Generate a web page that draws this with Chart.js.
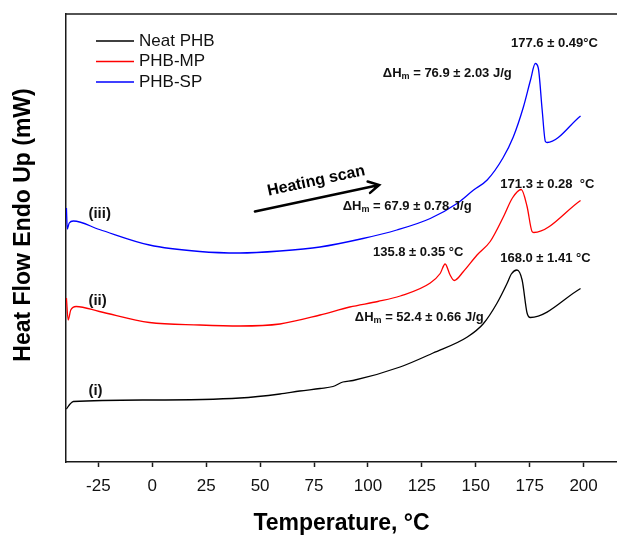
<!DOCTYPE html>
<html>
<head>
<meta charset="utf-8">
<script src="https://cdn.jsdelivr.net/npm/chart.js@4.4.1/dist/chart.umd.min.js"></script>
<style>
  html, body { margin: 0; padding: 0; background: #fff; overflow: hidden; }
</style>
</head>
<body>
<canvas id="dsc" width="617" height="535"></canvas>
<script>
// DSC heating curves (temperature in °C, heat flow in mW, curves offset)
const tempNeat = [-39.8, -38.1, -36.6, -1.3, 40.6, 59.2, 68.4, 77.8, 83.8, 88.4, 93.1, 114.9, 130.2, 146.1, 153.6, 159.9, 164.5, 166.5, 169.1, 171.5, 173.8, 175.3, 198.6];
const heatNeat = [1.06, 1.16, 1.21, 1.24, 1.28, 1.36, 1.42, 1.47, 1.51, 1.6, 1.63, 1.9, 2.18, 2.5, 2.77, 3.18, 3.57, 3.76, 3.84, 3.64, 2.98, 2.89, 3.47];

const tempMP = [-39.8, -39.0, -37.8, -35.3, -24.5, -1.3, 22, 40.6, 59.2, 77.8, 91.6, 104.6, 115.0, 128.9, 133.5, 135.8, 138.1, 140.0, 144.3, 150.6, 156.7, 162.9, 167.0, 171.1, 173.8, 176.1, 176.9, 198.6];
const heatMP = [3.28, 2.84, 3.04, 3.11, 3.01, 2.79, 2.74, 2.72, 2.76, 2.94, 3.10, 3.21, 3.32, 3.58, 3.77, 3.96, 3.74, 3.63, 3.81, 4.14, 4.41, 4.91, 5.28, 5.45, 5.11, 4.61, 4.59, 5.23];

const tempSP = [-39.8, -39.4, -38.5, -36.6, -24.5, -1.3, 22, 40.6, 59.2, 77.8, 97.7, 113.4, 128.9, 141.3, 149, 155.3, 162.6, 167.4, 172.1, 175.4, 177.6, 179.0, 180.8, 182.3, 183.1, 198.6];
const heatSP = [5.08, 4.66, 4.78, 4.82, 4.65, 4.34, 4.21, 4.18, 4.22, 4.3, 4.47, 4.64, 4.87, 5.17, 5.44, 5.64, 6.08, 6.5, 7.1, 7.64, 7.97, 7.88, 7.04, 6.41, 6.39, 6.92];

const seriesNames = ['Neat PHB', 'PHB-MP', 'PHB-SP'];
const seriesColors = ['#000000', '#ff0000', '#0000ff'];
const xTicks = [-25, 0, 25, 50, 75, 100, 125, 150, 175, 200];

// annotation texts placed in data coordinates
const peakNotes = [
  { t: 186.5, v: 8.38, text: '177.6 ± 0.49°C' },
  { t: 183.2, v: 5.56, text: '171.3 ± 0.28  °C' },
  { t: 123.3, v: 4.20, text: '135.8 ± 0.35 °C' },
  { t: 182.3, v: 4.08, text: '168.0 ± 1.41 °C' }
];
const enthalpyNotes = [
  { t: 136.8, v: 7.78, text: ' = 76.9 ± 2.03 J/g' },
  { t: 118.2, v: 5.12, text: ' = 67.9 ± 0.78 J/g' },
  { t: 123.8, v: 2.90, text: ' = 52.4 ± 0.66 J/g' }
];
const curveTags = [
  { t: -29.6, v: 4.96, text: '(iii)' },
  { t: -29.6, v: 3.22, text: '(ii)' },
  { t: -29.6, v: 1.42, text: '(i)' }
];

const FONT = "'Liberation Sans', Arial, sans-serif";
const toPoints = (xs, ys) => xs.map((x, i) => ({ x: x, y: ys[i] }));

const decor = {
  id: 'decor',
  afterDraw(chart) {
    const { ctx, chartArea: a, scales: { x, y } } = chart;
    ctx.save();

    // top frame line
    ctx.strokeStyle = '#1a1a1a';
    ctx.lineWidth = 1.5;
    ctx.beginPath();
    ctx.moveTo(a.left, a.top);
    ctx.lineTo(a.right, a.top);
    ctx.stroke();

    // y title
    ctx.save();
    ctx.translate(23.5, 225);
    ctx.rotate(-Math.PI / 2);
    ctx.font = 'bold 23px ' + FONT;
    ctx.fillStyle = '#000';
    ctx.textAlign = 'center';
    ctx.textBaseline = 'middle';
    ctx.fillText('Heat Flow Endo Up (mW)', 0, 0);
    ctx.restore();

    // legend
    ctx.font = '17px ' + FONT;
    ctx.textBaseline = 'middle';
    ctx.textAlign = 'left';
    chart.data.datasets.forEach((ds, i) => {
      const ly = a.top + 27 + i * 20.5;
      ctx.strokeStyle = ds.borderColor;
      ctx.lineWidth = 1.3;
      ctx.beginPath();
      ctx.moveTo(a.left + 30, ly);
      ctx.lineTo(a.left + 68, ly);
      ctx.stroke();
      ctx.fillStyle = '#111';
      ctx.fillText(ds.label, a.left + 73, ly);
    });

    ctx.fillStyle = '#111';
    ctx.textBaseline = 'middle';

    // peak temperatures
    ctx.font = 'bold 13px ' + FONT;
    ctx.textAlign = 'center';
    peakNotes.forEach(n => ctx.fillText(n.text, x.getPixelForValue(n.t), y.getPixelForValue(n.v)));

    // enthalpies with subscript m
    enthalpyNotes.forEach(n => {
      const cx = x.getPixelForValue(n.t), cy = y.getPixelForValue(n.v);
      ctx.font = 'bold 13px ' + FONT;
      const w1 = ctx.measureText('ΔH').width, w3 = ctx.measureText(n.text).width;
      ctx.font = 'bold 9px ' + FONT;
      const w2 = ctx.measureText('m').width;
      let px = cx - (w1 + w2 + w3) / 2;
      ctx.textAlign = 'left';
      ctx.font = 'bold 13px ' + FONT;
      ctx.fillText('ΔH', px, cy);
      ctx.font = 'bold 9px ' + FONT;
      ctx.fillText('m', px + w1, cy + 4);
      ctx.font = 'bold 13px ' + FONT;
      ctx.fillText(n.text, px + w1 + w2, cy);
    });

    // curve tags
    ctx.font = 'bold 15px ' + FONT;
    ctx.textAlign = 'left';
    curveTags.forEach(n => ctx.fillText(n.text, x.getPixelForValue(n.t), y.getPixelForValue(n.v)));

    // heating scan arrow
    const x0 = x.getPixelForValue(47.6), y0 = y.getPixelForValue(5.01);
    const x1 = x.getPixelForValue(105.2), y1 = y.getPixelForValue(5.54);
    const ang = Math.atan2(y1 - y0, x1 - x0);
    ctx.strokeStyle = '#000';
    ctx.lineWidth = 2.5;
    ctx.lineCap = 'round';
    ctx.beginPath();
    ctx.moveTo(x0, y0);
    ctx.lineTo(x1, y1);
    ctx.moveTo(x1 - 12 * Math.cos(ang - 0.5), y1 - 12 * Math.sin(ang - 0.5));
    ctx.lineTo(x1, y1);
    ctx.lineTo(x1 - 12 * Math.cos(ang + 0.5), y1 - 12 * Math.sin(ang + 0.5));
    ctx.stroke();

    ctx.save();
    ctx.translate(x.getPixelForValue(76), y.getPixelForValue(5.62));
    ctx.rotate(ang);
    ctx.font = 'bold 16px ' + FONT;
    ctx.textAlign = 'center';
    ctx.fillStyle = '#000';
    ctx.fillText('Heating scan', 0, 0);
    ctx.restore();

    ctx.restore();
  }
};

new Chart(document.getElementById('dsc'), {
  type: 'line',
  data: {
    datasets: [
      { label: seriesNames[0], data: toPoints(tempNeat, heatNeat), borderColor: seriesColors[0] },
      { label: seriesNames[1], data: toPoints(tempMP, heatMP), borderColor: seriesColors[1] },
      { label: seriesNames[2], data: toPoints(tempSP, heatSP), borderColor: seriesColors[2] }
    ]
  },
  options: {
    responsive: false,
    animation: false,
    layout: { padding: { top: 14, right: 0, left: 0, bottom: 0 } },
    elements: {
      line: { borderWidth: 1.3, cubicInterpolationMode: 'monotone', fill: false },
      point: { radius: 0 }
    },
    scales: {
      x: {
        type: 'linear',
        min: -40,
        max: 215.5,
        afterBuildTicks: (scale) => { scale.ticks = xTicks.map(v => ({ value: v })); },
        afterFit: (scale) => { scale.height = 73; },
        grid: { drawOnChartArea: false, drawTicks: true, tickLength: 5, tickWidth: 1.5, tickColor: '#1a1a1a' },
        border: { display: true, color: '#1a1a1a', width: 1.5 },
        ticks: { color: '#111', font: { family: FONT, size: 17 }, padding: 9, maxRotation: 0 },
        title: {
          display: true,
          text: 'Temperature, °C',
          color: '#000',
          font: { family: FONT, size: 23, weight: 'bold', lineHeight: 1 },
          padding: { top: 0, bottom: 0 }
        }
      },
      y: {
        type: 'linear',
        min: 0,
        max: 8.96,
        afterFit: (scale) => { scale.width = 66; },
        grid: { display: false },
        border: { display: true, color: '#1a1a1a', width: 1.5 },
        ticks: { display: false }
      }
    },
    plugins: {
      legend: { display: false },
      tooltip: { enabled: false }
    }
  },
  plugins: [decor]
});
</script>
</body>
</html>
